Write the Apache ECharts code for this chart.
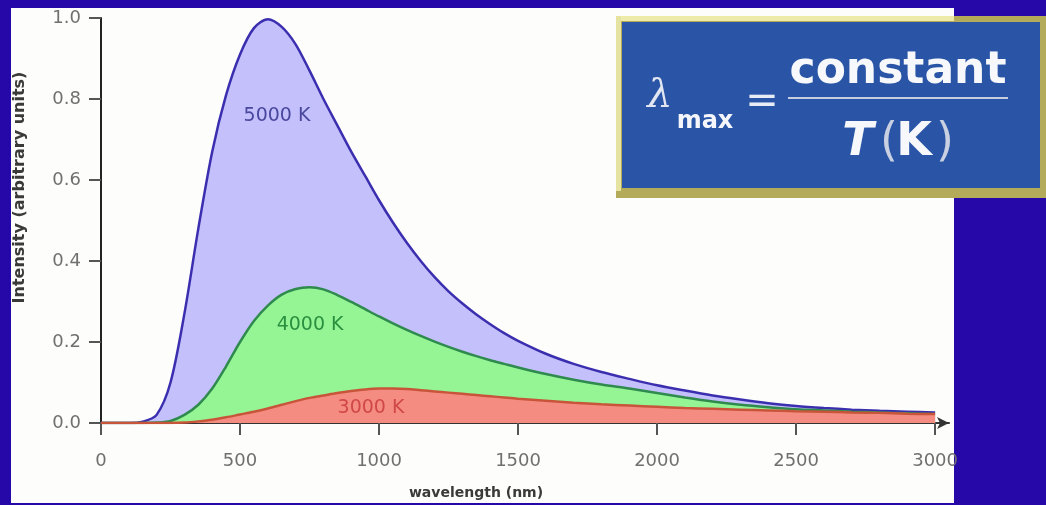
<!DOCTYPE html>
<html><head><meta charset="utf-8">
<script src="https://cdn.jsdelivr.net/npm/echarts@6/dist/echarts.min.js"></script>
<style>html,body{margin:0;padding:0;background:#2608a8;overflow:hidden;} #c{width:1046px;height:505px;}</style>
</head><body><div id="c"></div>
<script>
// ---- data ----
const wavelengths = [0,50,100,150,200,250,300,350,400,450,500,550,600,650,700,750,800,850,900,950,1000,1050,1100,1150,1200,1250,1300,1350,1400,1450,1500,1600,1700,1800,1900,2000,2100,2200,2300,2400,2500,2600,2700,2800,2900,3000];
const t5000 = [0,0,0,0.003,0.02,0.1,0.27,0.48,0.67,0.81,0.91,0.975,0.997,0.978,0.935,0.87,0.80,0.735,0.67,0.61,0.55,0.495,0.445,0.40,0.36,0.325,0.295,0.268,0.244,0.222,0.203,0.171,0.146,0.126,0.109,0.093,0.08,0.068,0.058,0.049,0.042,0.037,0.033,0.03,0.028,0.026];
const t4000 = [0,0,0,0,0.001,0.005,0.02,0.045,0.085,0.14,0.2,0.252,0.29,0.317,0.331,0.335,0.33,0.316,0.299,0.281,0.263,0.246,0.23,0.215,0.201,0.188,0.176,0.165,0.155,0.146,0.137,0.121,0.107,0.095,0.085,0.074,0.063,0.053,0.045,0.039,0.034,0.031,0.028,0.026,0.024,0.022];
const t3000 = [0,0,0,0,0,0,0.001,0.004,0.008,0.014,0.021,0.028,0.036,0.045,0.054,0.062,0.068,0.074,0.079,0.083,0.085,0.085,0.084,0.081,0.078,0.075,0.072,0.069,0.066,0.063,0.06,0.055,0.05,0.046,0.043,0.04,0.037,0.035,0.033,0.031,0.029,0.028,0.026,0.025,0.023,0.022];
const seriesNames = ['5000 K','4000 K','3000 K'];
const xTicks = [0,500,1000,1500,2000,2500,3000];
const yTicks = [0,0.2,0.4,0.6,0.8,1.0];
const xTitle = 'wavelength (nm)';
const yTitle = 'Intensity (arbitrary units)';

const pairs = ys => wavelengths.map((x,i)=>[x, ys[i]]);
const FONT = 'DejaVu Sans';

function areaSeries(name, data, lineColor, fillColor, labelColor, labelCoord, z){
  return {
    type:'line', name, data: pairs(data), smooth:0.3, showSymbol:false, z,
    lineStyle:{color:lineColor, width:2.5},
    areaStyle:{color:fillColor, opacity:1, origin:'start'},
    markPoint:{
      symbol:'rect', symbolSize:1, itemStyle:{color:'rgba(0,0,0,0)'},
      label:{show:true, position:'inside', formatter:name, color:labelColor, fontFamily:FONT, fontSize:19},
      data:[{coord:labelCoord}]
    }
  };
}

const chart = echarts.init(document.getElementById('c'));
chart.setOption({
  backgroundColor:'#2608a8',
  animation:false,
  grid:{left:101, right:97, top:18, bottom:80},
  xAxis:{
    type:'value', min:0, max:3050, interval:500,
    name:xTitle, nameLocation:'middle', nameGap:63,
    nameTextStyle:{fontFamily:FONT, fontWeight:'bold', fontSize:14, color:'#3a3a3a', padding:[0,98,0,0]},
    axisLine:{show:true, onZero:false, symbol:['none','arrow'], symbolSize:[9,12], lineStyle:{color:'#333', width:2}},
    axisTick:{show:true, length:12, customValues:xTicks, lineStyle:{color:'#555', width:2}},
    axisLabel:{customValues:xTicks, margin:29, fontFamily:FONT, fontSize:18, color:'#707070', formatter:v=>String(v)},
    splitLine:{show:false}
  },
  yAxis:{
    type:'value', min:0, max:1, interval:0.2,
    name:yTitle, nameLocation:'middle', nameGap:73,
    nameTextStyle:{fontFamily:FONT, fontWeight:'bold', fontSize:16, color:'#3a3a3a', padding:[0,0,0,66]},
    axisLine:{show:true, lineStyle:{color:'#222', width:2}},
    axisTick:{show:true, length:12, customValues:yTicks, lineStyle:{color:'#555', width:2}},
    axisLabel:{customValues:yTicks, margin:20, fontFamily:FONT, fontSize:18, color:'#707070', formatter:v=>v.toFixed(1)},
    splitLine:{show:false}
  },
  series:[
    areaSeries(seriesNames[0], t5000, '#3b2fb0', '#c3c0fb', '#4a489e', [633,0.757], 2),
    areaSeries(seriesNames[1], t4000, '#2f8a4e', '#95f595', '#2a9040', [752,0.243], 3),
    areaSeries(seriesNames[2], t3000, '#c8553a', '#f48c82', '#d04848', [971,0.037], 4)
  ],
  graphic:[
    {type:'rect', z:-10, silent:true, shape:{x:11, y:8, width:943, height:495}, style:{fill:'#fdfdfb'}},
    // formula box
    {type:'rect', z:100, shape:{x:616, y:16, width:430, height:182}, style:{fill:'#b4ab5a'}},
    {type:'rect', z:100, shape:{x:616, y:16, width:338, height:5}, style:{fill:'#eeeaa8'}},
    {type:'rect', z:100, shape:{x:616, y:16, width:5, height:175}, style:{fill:'#e6e2a0'}},
    {type:'rect', z:101, shape:{x:622, y:22, width:418, height:166}, style:{fill:'#2a55a6'}},
    {type:'text', z:102, style:{x:660, y:97, text:'λ', font:'italic 40px "DejaVu Serif"', fill:'#e2e6f2', align:'center', verticalAlign:'middle'}},
    {type:'text', z:102, style:{x:705, y:122, text:'max', font:'bold 24px "DejaVu Sans"', fill:'#f4f6fb', align:'center', verticalAlign:'middle', textShadowColor:'#0c1a3a', textShadowOffsetX:2, textShadowOffsetY:2}},
    {type:'text', z:102, style:{x:762, y:103, text:'=', font:'40px "DejaVu Sans"', fill:'#e8ecf4', align:'center', verticalAlign:'middle'}},
    {type:'text', z:102, style:{x:898, y:72, text:'constant', font:'bold 44px "DejaVu Sans"', fill:'#f6f8fc', align:'center', verticalAlign:'middle', textShadowColor:'#0c1a3a', textShadowOffsetX:2, textShadowOffsetY:2}},
    {type:'line', z:102, shape:{x1:788, y1:98, x2:1008, y2:98}, style:{stroke:'#c6cedf', lineWidth:2}},
    {type:'text', z:102, style:{x:858, y:143, text:'T', font:'italic bold 46px "DejaVu Sans"', fill:'#f6f8fc', align:'center', verticalAlign:'middle', textShadowColor:'#0c1a3a', textShadowOffsetX:2, textShadowOffsetY:2}},
    {type:'text', z:102, style:{x:889, y:143, text:'(', font:'46px "DejaVu Sans"', fill:'#c8d0e2', align:'center', verticalAlign:'middle'}},
    {type:'text', z:102, style:{x:914, y:143, text:'K', font:'bold 46px "DejaVu Sans"', fill:'#f6f8fc', align:'center', verticalAlign:'middle', textShadowColor:'#0c1a3a', textShadowOffsetX:2, textShadowOffsetY:2}},
    {type:'text', z:102, style:{x:945, y:143, text:')', font:'46px "DejaVu Sans"', fill:'#c8d0e2', align:'center', verticalAlign:'middle'}}
  ]
});
</script></body></html>
